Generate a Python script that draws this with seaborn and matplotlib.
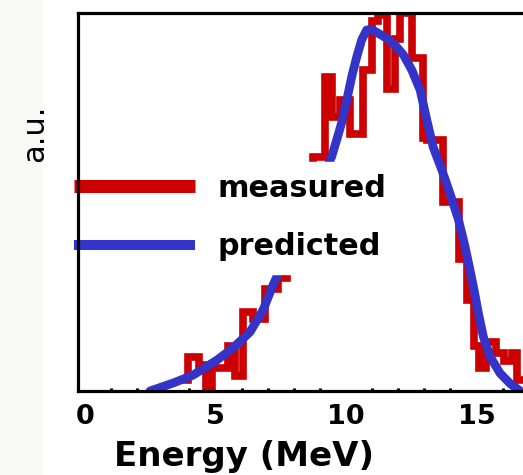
import matplotlib
matplotlib.use("Agg")
import matplotlib.pyplot as plt
import seaborn as sns
import pandas as pd
from matplotlib.lines import Line2D
from matplotlib.patches import Rectangle
from matplotlib.ticker import MultipleLocator

# measured spectrum, step left edges (MeV) and height (a.u.)
measured_e = [3.70, 3.95, 4.35, 4.65, 4.87, 5.30, 5.48, 5.75, 6.05, 6.44, 6.90, 7.40,
              7.74, 8.00, 8.30, 8.55, 8.73, 9.20, 9.46, 9.77, 10.15, 10.65, 11.00,
              11.23, 11.57, 11.88, 12.07, 12.53, 12.95, 13.10, 13.72, 14.33, 14.62,
              14.90, 15.10, 15.35, 15.75, 16.05, 16.35, 16.55, 16.90]
measured_y = [0.03, 0.09, 0.07, 0.00, 0.06, 0.06, 0.12, 0.04, 0.21, 0.19, 0.27, 0.30,
              0.36, 0.42, 0.50, 0.55, 0.62, 0.83, 0.725, 0.77, 0.68, 0.85, 0.98,
              0.995, 0.80, 0.93, 1.00, 0.88, 0.67, 0.665, 0.50, 0.35, 0.24,
              0.12, 0.06, 0.13, 0.10, 0.08, 0.10, 0.03, 0.03]

# predicted spectrum
predicted_e = [2.49, 3.37, 4.14, 5.06, 5.67, 6.32, 6.82, 7.20, 8.40, 9.45, 9.64, 9.83,
               10.03, 10.22, 10.41, 10.60, 10.79, 10.98, 11.24, 11.56, 11.88, 12.20,
               12.52, 12.84, 13.10, 13.34, 13.67, 13.98, 14.30, 14.55, 14.75, 14.92,
               15.07, 15.26, 15.52, 15.90, 16.28, 16.67]
predicted_y = [0.0, 0.021, 0.042, 0.082, 0.114, 0.156, 0.214, 0.28, 0.46, 0.62, 0.664,
               0.709, 0.77, 0.832, 0.884, 0.929, 0.955, 0.957, 0.946, 0.933, 0.915,
               0.889, 0.849, 0.796, 0.715, 0.645, 0.585, 0.523, 0.455, 0.385, 0.32,
               0.262, 0.206, 0.144, 0.091, 0.047, 0.020, 0.0]

series_labels = ["measured", "predicted"]
series_colors = ["#cc0000", "#3434c8"]

sns.set_theme(style="white")
plt.rcParams["font.family"] = ["DejaVu Sans"]
plt.rcParams["text.color"] = "black"
plt.rcParams["axes.labelcolor"] = "black"
plt.rcParams["xtick.color"] = "black"

fig = plt.figure(figsize=(5.23, 4.75), dpi=100)
fig.add_artist(Rectangle((0, 0), 43 / 523, 1, transform=fig.transFigure,
                         facecolor="#f8f8f6", edgecolor="none", zorder=0))
ax = fig.add_axes([78 / 523, 84 / 475, 445 / 523, 378 / 475])

meas_df = pd.DataFrame({"energy": measured_e, "signal": measured_y})
pred_df = pd.DataFrame({"energy": predicted_e, "signal": predicted_y})

sns.lineplot(data=meas_df, x="energy", y="signal", ax=ax, color=series_colors[0],
             lw=5.5, drawstyle="steps-post", estimator=None, solid_joinstyle="miter")
sns.lineplot(data=pred_df, x="energy", y="signal", ax=ax, color=series_colors[1],
             lw=6.3, estimator=None)

ax.set_xlim(-0.27, 16.78)
ax.set_ylim(0, 1)
ax.set_yticks([])
ax.set_ylabel("")
ax.set_xticks([0, 5, 10, 15])
ax.xaxis.set_minor_locator(MultipleLocator(1))
ax.tick_params(axis="x", which="major", direction="in", length=4, width=2.2,
               pad=9, labelsize=19.5, colors="black")
ax.tick_params(axis="x", which="minor", direction="in", length=2.5, width=2.2,
               bottom=True)
for lab in ax.get_xticklabels():
    lab.set_fontweight("bold")

for side in ["left", "bottom", "top"]:
    ax.spines[side].set_linewidth(2.3)
    ax.spines[side].set_color("black")
ax.spines["right"].set_visible(False)

ax.set_xlabel("Energy (MeV)", fontsize=24.5, fontweight="bold")
ax.xaxis.set_label_coords(0.373, -0.13)

handles = [Line2D([], [], color=series_colors[0], lw=9.4, solid_capstyle="butt"),
           Line2D([], [], color=series_colors[1], lw=7.2, solid_capstyle="butt")]
leg = ax.legend(handles, series_labels, loc="upper left",
                bbox_to_anchor=(-0.036, 0.606), borderaxespad=0, frameon=True,
                fancybox=False, facecolor="white", edgecolor="white", framealpha=1,
                borderpad=0.4, handlelength=4.0, handletextpad=0.72,
                labelspacing=0.97, prop={"size": 21.8, "weight": "bold"})
# legend above the curves but below the frame lines
leg.set_zorder(2.4)

fig.text(35 / 523, 1 - 133 / 475, "a.u.", rotation=90, ha="center", va="center",
         fontsize=22)

fig.savefig("out.png", dpi=100)
